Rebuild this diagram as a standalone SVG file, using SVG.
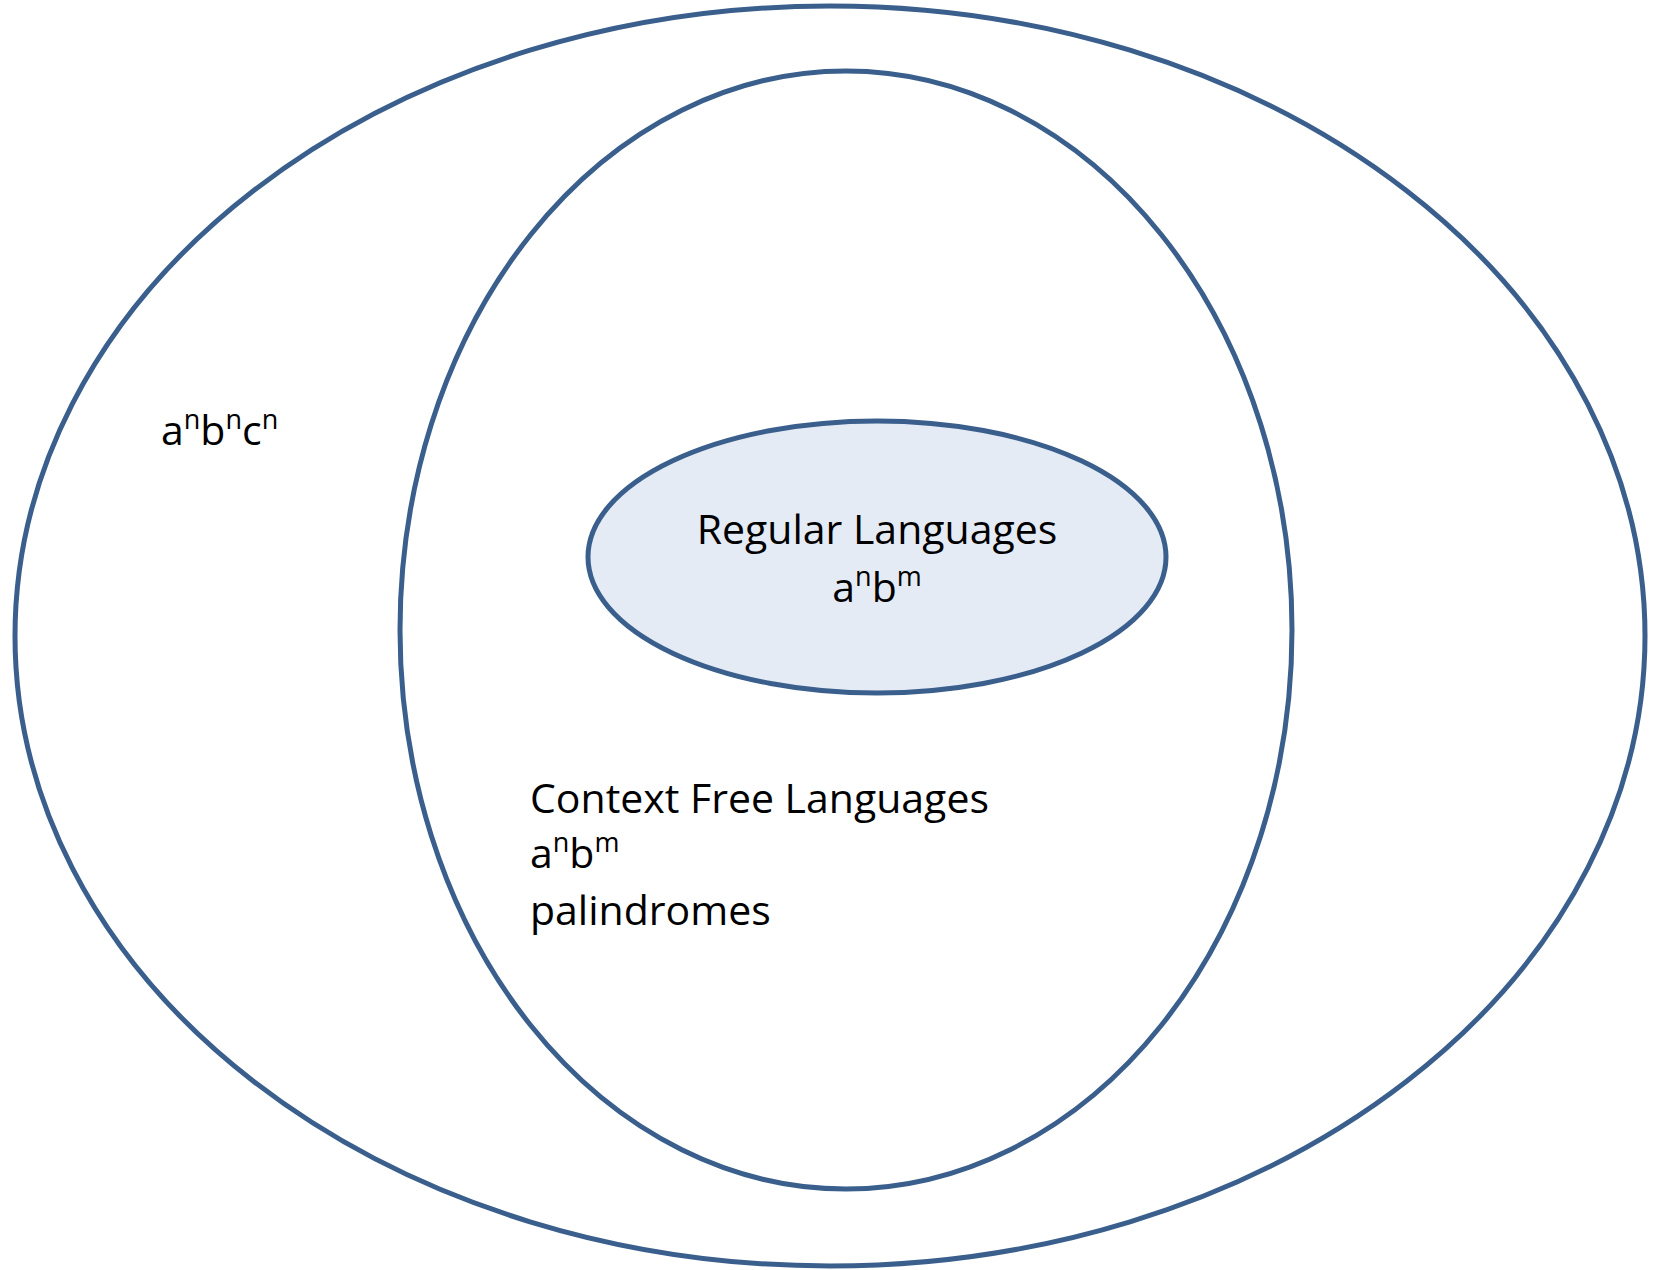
<svg xmlns="http://www.w3.org/2000/svg" width="1655" height="1270" viewBox="0 0 1655 1270">
<style>
.ring{fill:none;stroke:#3A5F8D;stroke-width:5}
.reg{fill:#E4EBF5;stroke:#3A5F8D;stroke-width:5}
text{font-family:"Open Sans","Noto Sans","Liberation Sans",sans-serif;font-size:41px;fill:#000}
.sup{font-size:27px}
</style>
<rect width="1655" height="1270" fill="#fff"/>
<g id="outer">
<ellipse class="ring" cx="830" cy="636" rx="815" ry="630"/>
<text x="161" y="445">a<tspan class="sup" dy="-16">n</tspan><tspan dy="16">b</tspan><tspan class="sup" dy="-16">n</tspan><tspan dy="16">c</tspan><tspan class="sup" dy="-16">n</tspan></text>
</g>
<g id="cfl">
<ellipse class="ring" cx="846" cy="630" rx="446" ry="559"/>
<text x="530" y="813">Context Free Languages</text>
<text x="530" y="868">a<tspan class="sup" dy="-16">n</tspan><tspan dy="16">b</tspan><tspan class="sup" dy="-16">m</tspan></text>
<text x="530" y="925">palindromes</text>
</g>
<g id="regular">
<ellipse class="reg" cx="877" cy="557" rx="289" ry="136"/>
<text x="877" y="544" text-anchor="middle">Regular Languages</text>
<text x="877" y="602" text-anchor="middle">a<tspan class="sup" dy="-16">n</tspan><tspan dy="16">b</tspan><tspan class="sup" dy="-16">m</tspan></text>
</g>
<g id="connectors"/>
</svg>
